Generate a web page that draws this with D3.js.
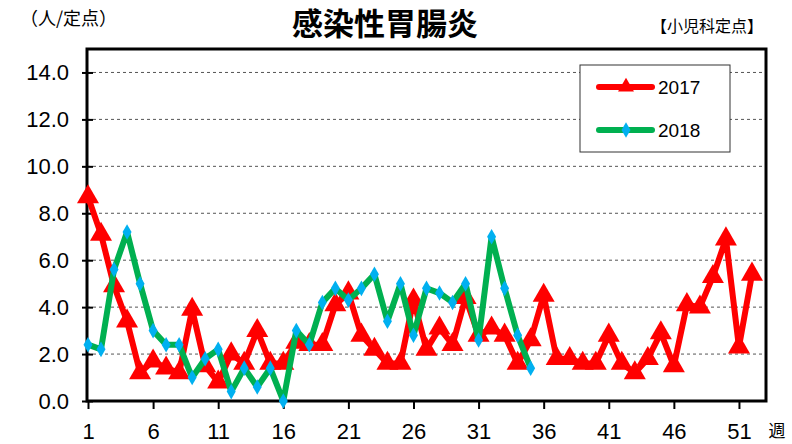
<!DOCTYPE html>
<html>
<head>
<meta charset="utf-8">
<script src="https://cdn.jsdelivr.net/npm/d3@7"></script>
<style>
  body { margin: 0; background: #fff; }
  svg { display: block; }
  .tick-lbl { font-family: "Liberation Sans Narrow", "Arial Narrow", "Liberation Sans", sans-serif; font-size: 22px; fill: #000; }
  .jp { font-family: "Noto Sans CJK JP", sans-serif; fill: #000; }
</style>
</head>
<body>
<svg id="chart" width="792" height="444"></svg>
<script>
// weekly reports per sentinel site
const weeks2017 = d3.range(1, 53);
const values2017 = [8.7, 7.1, 4.9, 3.4, 1.2, 1.7, 1.4, 1.2, 3.9, 1.5,
                    0.8, 2.0, 1.6, 3.0, 1.6, 1.6, 2.5, 2.4, 2.4, 4.1,
                    4.6, 2.8, 2.2, 1.6, 1.6, 4.3, 2.2, 3.1, 2.4, 4.4,
                    2.8, 3.1, 2.8, 1.6, 2.6, 4.5, 1.8, 1.8, 1.6, 1.6,
                    2.8, 1.6, 1.2, 1.8, 2.9, 1.5, 4.1, 4.0, 5.3, 6.9,
                    2.3, 5.4];
const weeks2018 = d3.range(1, 36);
const values2018 = [2.4, 2.2, 5.6, 7.2, 5.0, 3.0, 2.4, 2.4, 1.0, 1.8,
                    2.2, 0.4, 1.4, 0.6, 1.4, 0.0, 3.0, 2.4, 4.2, 4.8,
                    4.3, 4.8, 5.4, 3.4, 5.0, 2.8, 4.8, 4.6, 4.2, 5.0,
                    2.6, 7.0, 4.8, 2.8, 1.4];
const yTicks = [0, 2, 4, 6, 8, 10, 12, 14];
const xTicks = [1, 6, 11, 16, 21, 26, 31, 36, 41, 46, 51];
const seriesNames = ["2017", "2018"];

const svg = d3.select("#chart");
const plotL = 87, plotR = 766, plotT = 49, plotB = 401;

const x = d3.scaleLinear().domain([1, 53]).range([plotL + 1, plotR - 1]);
const y = d3.scaleLinear().domain([0, 15]).range([plotB, plotT]);

// titles
svg.append("text").attr("class", "jp")
  .attr("x", 385).attr("y", 35).attr("text-anchor", "middle")
  .style("font-size", "31px").style("font-weight", "bold")
  .text("感染性胃腸炎");
svg.append("text").attr("class", "jp")
  .attr("x", 20).attr("y", 25).style("font-size", "18px")
  .text("（人/定点）");
svg.append("text").attr("class", "jp")
  .attr("x", 763).attr("y", 32).attr("text-anchor", "end").style("font-size", "16px")
  .text("【小児科定点】");

// gridlines
svg.append("g").selectAll("line")
  .data(yTicks.filter(d => d > 0))
  .join("line")
  .attr("x1", plotL).attr("x2", plotR)
  .attr("y1", d => y(d)).attr("y2", d => y(d))
  .attr("stroke", "#555").attr("stroke-width", 1)
  .attr("stroke-dasharray", "3,3");

// axes
const yAxis = svg.append("g")
  .attr("transform", `translate(${plotL},0)`)
  .call(d3.axisLeft(y).tickValues(yTicks).tickFormat(d3.format(".1f"))
    .tickSizeInner(6).tickSizeOuter(0).tickPadding(10));
yAxis.select(".domain").remove();
yAxis.selectAll("line").attr("stroke", "#000").attr("stroke-width", 2).attr("x2", -5).attr("x1", 6);
yAxis.selectAll("text").attr("class", "tick-lbl").attr("font-family", null).attr("font-size", null)
  .attr("x", -18);

const xAxis = svg.append("g")
  .attr("transform", `translate(0,${plotB})`)
  .call(d3.axisBottom(x).tickValues(xTicks).tickFormat(d3.format("d"))
    .tickSizeInner(8).tickSizeOuter(0).tickPadding(14));
xAxis.select(".domain").remove();
xAxis.selectAll("line").attr("stroke", "#000").attr("stroke-width", 2);
xAxis.selectAll("text").attr("class", "tick-lbl").attr("font-family", null).attr("font-size", null);

svg.append("text").attr("class", "jp")
  .attr("x", 777).attr("y", 437).attr("text-anchor", "middle").style("font-size", "17px")
  .text("週");

// frame
svg.append("rect")
  .attr("x", plotL).attr("y", plotT).attr("width", plotR - plotL).attr("height", plotB - plotT)
  .attr("fill", "none").attr("stroke", "#000").attr("stroke-width", 3);

// series
const line = d3.line().x(d => x(d[0])).y(d => y(d[1]));
const tri = d3.symbol().type(d3.symbolTriangle).size(210);
const dia = d3.symbol().type(d3.symbolDiamond).size(70);

const data2017 = weeks2017.map((w, i) => [w, values2017[i]]);
const data2018 = weeks2018.map((w, i) => [w, values2018[i]]);

svg.append("path").datum(data2017)
  .attr("d", line).attr("fill", "none")
  .attr("stroke", "#FF0000").attr("stroke-width", 6).attr("stroke-linejoin", "round");
svg.append("g").selectAll("path").data(data2017).join("path")
  .attr("transform", d => `translate(${x(d[0])},${y(d[1])})`)
  .attr("d", tri).attr("fill", "#FF0000");

svg.append("path").datum(data2018)
  .attr("d", line).attr("fill", "none")
  .attr("stroke", "#00B050").attr("stroke-width", 6).attr("stroke-linejoin", "round");
svg.append("g").selectAll("path").data(data2018).join("path")
  .attr("transform", d => `translate(${x(d[0])},${y(d[1])})`)
  .attr("d", dia).attr("fill", "#00B0F0");

// legend
const lg = svg.append("g").attr("transform", "translate(580,65)");
lg.append("rect").attr("width", 150).attr("height", 87)
  .attr("fill", "#fff").attr("stroke", "#333").attr("stroke-width", 1);
const legendItems = [
  { name: seriesNames[0], color: "#FF0000", marker: tri, mColor: "#FF0000" },
  { name: seriesNames[1], color: "#00B050", marker: dia, mColor: "#00B0F0" }
];
legendItems.forEach((it, i) => {
  const yy = 22 + i * 43;
  lg.append("line").attr("x1", 19).attr("x2", 72).attr("y1", yy).attr("y2", yy)
    .attr("stroke", it.color).attr("stroke-width", 6).attr("stroke-linecap", "round");
  lg.append("path").attr("transform", `translate(46,${yy})`).attr("d", it === legendItems[0] ? d3.symbol().type(d3.symbolTriangle).size(110) : dia).attr("fill", it.mColor);
  lg.append("text").attr("x", 78).attr("y", yy + 7)
    .style("font-family", "'Liberation Sans', Arial, sans-serif").style("font-size", "19px")
    .text(it.name);
});
</script>
</body>
</html>
